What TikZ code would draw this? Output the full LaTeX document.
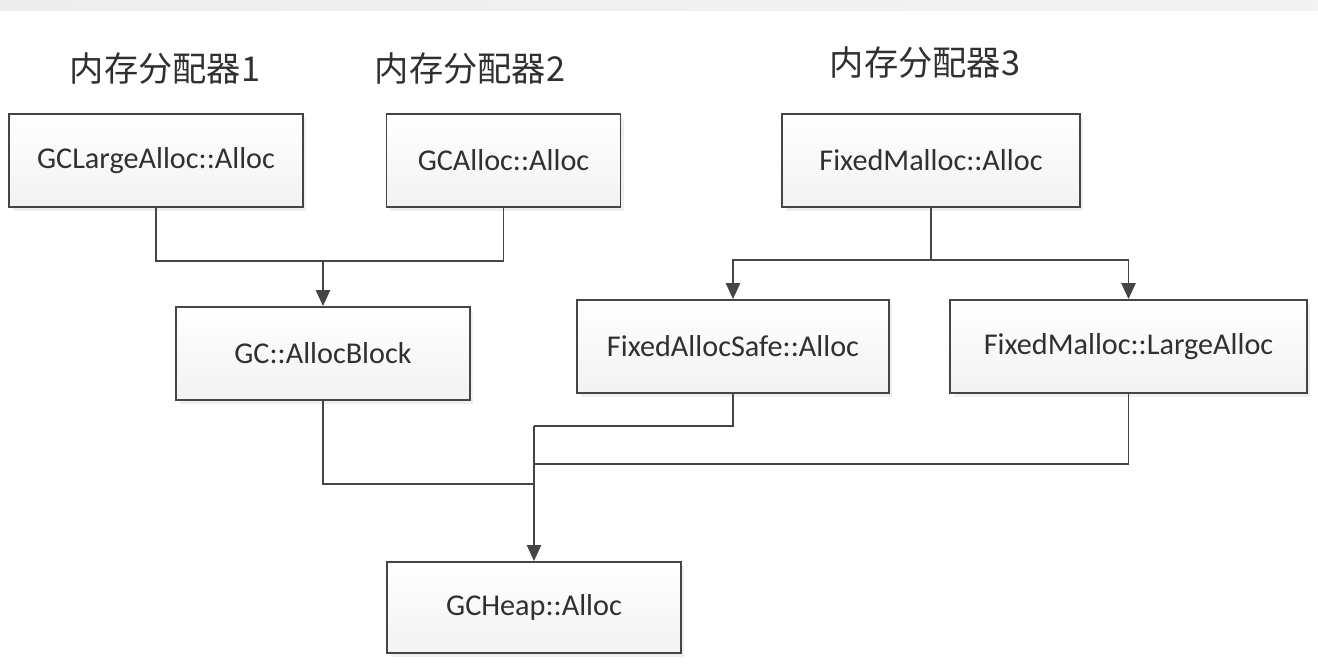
\documentclass[tikz,border=0pt]{standalone}
\usepackage{fontspec}
\setmainfont{Carlito}
\newfontfamily\cjk{Noto Sans CJK SC}
\usetikzlibrary{arrows.meta,shadows}
\definecolor{ln}{HTML}{454545}
\definecolor{tx}{HTML}{303030}
\tikzset{
  fbox/.style={draw=ln, line width=1.1pt, top color=white, bottom color=gray!10,
    minimum height=1.86cm, text=tx, font=\fontsize{17.2pt}{19pt}\selectfont,
    drop shadow={shadow xshift=2pt, shadow yshift=-2pt, opacity=0.12}},
  conn/.style={draw=ln, line width=1.1pt},
  arr/.style={conn, -{Triangle[length=9pt,width=8pt]}},
  grp/.style={text=tx, font=\cjk\fontsize{19.5pt}{21pt}\selectfont}
}
\begin{document}
\begin{tikzpicture}[x=0.02cm,y=-0.02cm]
\useasboundingbox (0,0) rectangle (1318,668);
\fill[white] (0,0) rectangle (1318,668);
\shade[left color=gray!14, right color=gray!9] (0,0) rectangle (1318,11);

\node[grp] (t1) at (165,69) {内存分配器1};
\node[grp] (t2) at (470,69) {内存分配器2};
\node[grp] (t3) at (925,63) {内存分配器3};

\node[fbox, minimum width=5.88cm] (la) at (156,160.5) {GCLargeAlloc::Alloc};
\node[fbox, minimum width=4.68cm] (ga) at (503.5,160.5) {GCAlloc::Alloc};
\node[fbox, minimum width=5.96cm] (fm) at (931,160.5) {FixedMalloc::Alloc};
\node[fbox, minimum width=5.88cm] (ab) at (323,353.5) {GC::AllocBlock};
\node[fbox, minimum width=6.24cm] (fs) at (733,346.5) {FixedAllocSafe::Alloc};
\node[fbox, minimum width=7.14cm] (fl) at (1128.5,346.5) {FixedMalloc::LargeAlloc};
\node[fbox, minimum width=5.88cm, minimum height=1.82cm] (gh) at (534,607.5) {GCHeap::Alloc};

\coordinate (j1) at (323,261);
\coordinate (j2) at (931,260);
\coordinate (ha) at (534,484);
\coordinate (hb) at (534,426);
\coordinate (hc) at (534,464);

\draw[conn] (la.south) |- (j1) -| (ga.south);
\draw[arr] (j1) -- (ab.north);
\draw[conn] (fm.south) -- (j2);
\draw[arr] (j2) -| (fs.north);
\draw[arr] (j2) -| (fl.north);
\draw[conn] (ab.south) |- (ha);
\draw[conn] (fs.south) |- (hb);
\draw[conn] (fl.south) |- (hc);
\draw[arr] (hb) -- (gh.north);
\end{tikzpicture}
\end{document}
